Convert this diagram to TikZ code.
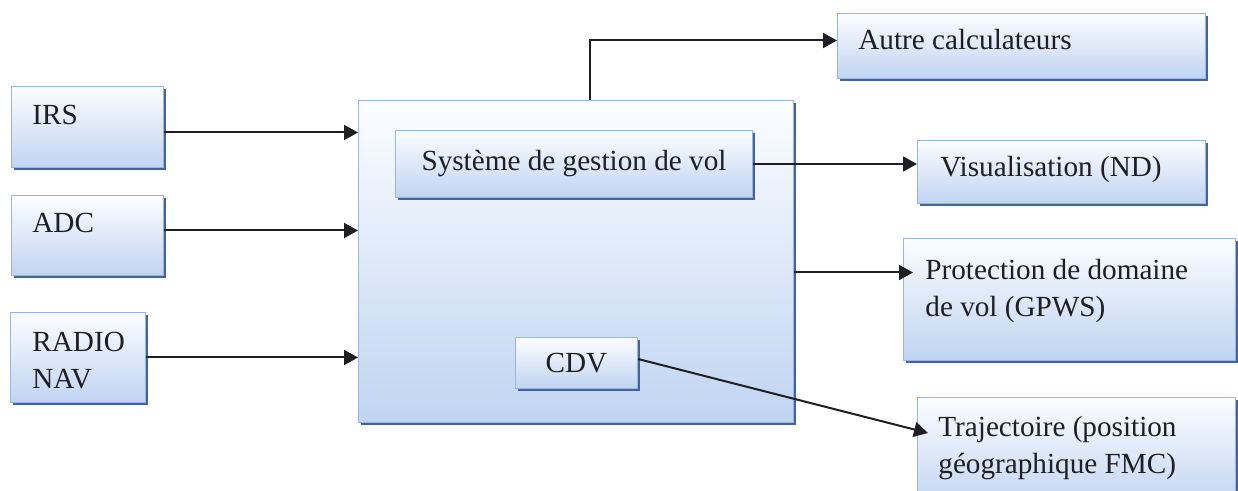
\documentclass[tikz,border=0pt]{standalone}
\usepackage{fontspec}
\setmainfont{Liberation Serif}
\usetikzlibrary{arrows.meta,shadows,calc}
\definecolor{boxbot}{RGB}{192,212,242}
\definecolor{boxtop}{RGB}{252,253,255}
\definecolor{boxline}{RGB}{150,182,228}
\definecolor{shadowc}{RGB}{72,100,150}
\definecolor{inkc}{RGB}{30,30,35}
\tikzset{
  blk/.style={rectangle, draw=boxline, line width=0.5pt, top color=boxtop, bottom color=boxbot,
    anchor=north west, inner sep=0pt,
    general shadow={fill=shadowc, shadow xshift=1pt, shadow yshift=-1.2pt},
    font=\fontsize{14.6}{18.5}\selectfont, text=inkc},
  lbl/.style={inner sep=0pt, align=left, font=\fontsize{14.6}{18.5}\selectfont, text=inkc},
  arr/.style={draw=inkc, line width=1pt, -{Triangle[length=7pt,width=7.5pt]}}
}
\begin{document}
\begin{tikzpicture}[x=0.5pt,y=-0.5pt]
\useasboundingbox (0,0) rectangle (1238,491);
\clip (0,0) rectangle (1238,491);
% boxes
\node[blk, minimum width=76pt, minimum height=40.5pt] (irs) at (11,86) {};
\node[blk, minimum width=76pt, minimum height=40pt] (adc) at (11,195) {};
\node[blk, minimum width=67.5pt, minimum height=45pt] (radio) at (10,312) {};
\node[blk, minimum width=217.5pt, minimum height=161pt] (main) at (358,100) {};
\node[blk, minimum width=178.5pt, minimum height=33.5pt] (sys) at (395,130) {Système de gestion de vol};
\node[blk, minimum width=61pt, minimum height=25.5pt] (cdv) at (515,337) {CDV\hspace{9pt}};
\node[blk, minimum width=184pt, minimum height=32.5pt] (autre) at (837,13) {};
\node[blk, minimum width=144pt, minimum height=31.5pt] (vis) at (917,140) {};
\node[blk, minimum width=166pt, minimum height=61pt] (prot) at (903,238) {};
\node[blk, minimum width=159pt, minimum height=55pt] (traj) at (917,397) {};
% texts
\node[lbl, anchor=base west] (tirs) at (32,125) {IRS};
\node[lbl, anchor=base west] (tadc) at (32,233) {ADC};
\node[lbl, anchor=north west] (tradio) at (32,332) {RADIO\\NAV};
\node[lbl, anchor=base west] (tautre) at (858,50) {Autre calculateurs};
\node[lbl, anchor=base west] (tvis) at (940,177) {Visualisation (ND)};
\node[lbl, anchor=north west] (tprot) at (925,259) {Protection de domaine\\de vol (GPWS)};
\node[lbl, anchor=north west] (ttraj) at (938,416) {Trajectoire (position\\géographique FMC)};
% connectors
\draw[arr] ([yshift=-2.75pt]irs.east) -- ([yshift=-2.75pt]irs.east -| main.west);
\draw[arr] ([yshift=2.5pt]adc.east) -- ([yshift=2.5pt]adc.east -| main.west);
\draw[arr] (radio.east) -- (radio.east -| main.west);
\draw[arr] ([xshift=6.75pt]main.north) |- ([yshift=2.75pt]autre.west);
\draw[arr] (sys.east) -- (sys.east -| vis.west);
\draw[arr] ([yshift=-5.5pt]main.east) -- ([yshift=-5.5pt,xshift=5pt]main.east -| prot.west);
\draw[arr] ([yshift=2pt]cdv.east) -- ([xshift=5.5pt,yshift=-18pt]traj.north west);
\end{tikzpicture}
\end{document}
